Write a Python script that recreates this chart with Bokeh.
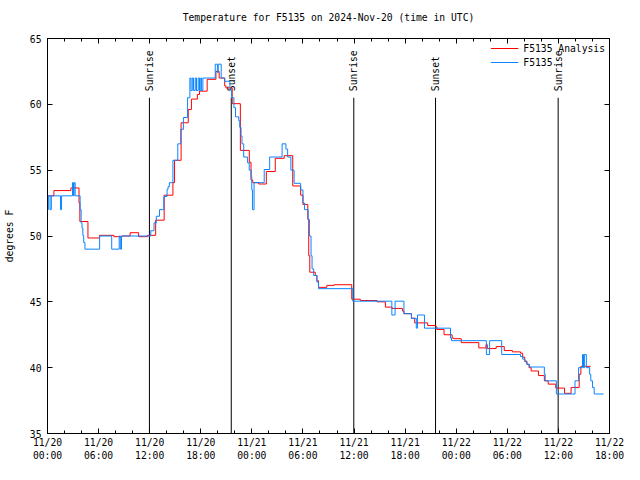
import math
from bokeh.plotting import figure
from bokeh.models import (FixedTicker, LinearAxis, Range1d, Legend, LegendItem,
                          CustomLabelingPolicy)
from bokeh.core.properties import value
from bokeh.embed import file_html
from bokeh.resources import INLINE

# ---- data (hours since 2024-11-20 00:00 UTC) ----
analysis_hours = [0.0, 0.75, 2.75, 3.7, 3.8, 4.75, 6.1, 7.8, 8.7, 9.7, 10.7, 11.75, 12.7, 13.7,
                  14.73, 14.92, 15.69, 16.53, 16.9, 17.6, 17.85, 18.75, 19.78, 20.16, 20.81, 20.95,
                  21.69, 22.65, 23.7, 23.9, 24.1, 24.8, 25.7, 26.75, 27.8, 28.8, 29.73, 30.0,
                  30.57, 30.68, 30.8, 31.45, 31.64, 31.83, 32.8, 33.67, 35.73, 36.73, 38.7, 39.68,
                  40.44, 41.7, 41.86, 42.74, 43.12, 44.65, 45.6, 45.72, 46.57, 47.52, 47.71, 48.59,
                  50.65, 51.5, 51.65, 52.69, 53.64, 54.6, 55.55, 55.8, 56.05, 56.3, 56.55, 56.8,
                  57.66, 58.35, 58.8, 59.69, 60.72, 61.49, 62.44, 62.64, 63.78]
analysis_temps = [53.05, 53.45, 53.65, 52.5, 51.1, 49.85, 50.05, 49.95, 50.0, 50.25, 49.95, 50.05, 51.2, 53.1,
                  54.05, 55.75, 58.6, 59.6, 60.4, 60.75, 61.0, 61.9, 62.5, 62.0, 61.4, 61.25,
                  60.05, 56.5, 55.6, 54.25, 54.05, 53.95, 54.9, 55.9, 56.1, 53.8, 53.1, 52.4,
                  51.25, 48.5, 47.25, 47.0, 46.6, 46.1, 46.25, 46.3, 45.2, 45.1, 45.0, 44.6,
                  44.5, 44.3, 44.1, 43.75, 43.4, 43.2, 43.1, 42.9, 42.5, 42.25, 42.2, 41.9,
                  41.5, 41.75, 41.45, 41.6, 41.3, 41.2, 41.1, 40.8, 40.5, 40.25, 40.0, 39.75,
                  39.4, 39.0, 38.75, 38.45, 38.05, 38.5, 39.5, 40.1, 40.1]

obs_hours = [0.0, 0.1, 0.3, 0.45, 1.53, 1.65, 2.94, 3.05, 3.12, 3.25, 3.83, 3.95, 4.05, 4.15, 4.25,
             4.4, 6.12, 7.54, 8.42, 8.55, 8.69, 12.13, 12.51, 12.78, 13.16, 13.66, 14.04, 14.16,
             14.31, 14.73, 15.3, 15.65, 15.96, 16.45, 16.72, 16.85, 17.0, 17.15, 17.35, 17.5,
             17.7, 17.85, 18.0, 18.1, 18.25, 19.7, 19.95, 20.05, 20.4, 20.81, 21.43, 21.62,
             21.89, 22.08, 22.46, 22.58, 22.73, 22.84, 23.04, 23.5, 23.69, 23.92, 23.99, 24.07,
             24.26, 25.45, 26.09, 27.55, 28.0, 28.2, 28.58, 28.96, 29.73, 30.0, 30.19, 30.61,
             30.76, 30.95, 31.07, 31.26, 31.64, 31.83, 35.85, 40.44, 40.82, 41.86, 42.74, 43.31,
             43.45, 44.27, 47.33, 47.45, 51.54, 51.92, 53.34, 55.55, 55.8, 56.05, 56.3, 56.6,
             58.35, 58.45, 59.76, 61.95, 62.37, 62.83, 62.95, 63.05, 63.28, 63.67, 63.8, 64.0,
             64.2, 64.35, 65.31]
obs_temps = [52.0, 53.05, 52.0, 53.05, 52.0, 53.05, 54.05, 53.05, 54.05, 53.05, 52.0, 51.0, 50.6, 50.05, 49.5,
             49.0, 50.0, 49.0, 50.0, 49.0, 50.0, 50.4, 51.0, 51.5, 52.0, 53.0, 53.55, 53.75,
             54.05, 55.75, 57.0, 58.1, 59.0, 60.5, 62.0, 61.05, 62.0, 61.05, 62.0, 61.05,
             62.0, 61.05, 62.0, 61.05, 62.0, 63.05, 62.4, 63.05, 62.0, 61.75, 61.1, 60.5,
             59.75, 59.05, 58.75, 58.25, 57.6, 57.0, 56.0, 55.55, 55.0, 54.5, 53.5, 52.0,
             54.05, 55.05, 56.0, 57.0, 56.6, 56.0, 55.0, 54.0, 53.5, 52.5, 52.0, 51.25,
             50.0, 48.5, 47.5, 47.0, 46.5, 46.0, 45.05, 44.0, 45.05, 44.1, 43.75, 43.0,
             44.0, 43.0, 42.25, 42.05, 41.0, 42.05, 41.0, 40.85, 40.65, 40.45, 40.25, 40.05,
             39.5, 39.0, 38.0, 39.0, 40.0, 41.0, 40.0, 41.0, 40.0, 39.5, 39.0, 38.5,
             38.0, 38.0, 38.0]

sun_hours = [11.97, 21.58, 35.97, 45.57, 59.97]
sun_labels = ["Sunrise", "Sunset", "Sunrise", "Sunset", "Sunrise"]

x_tick_hours = [0, 6, 12, 18, 24, 30, 36, 42, 48, 54, 60, 66]
x_tick_labels = ["11/20\n00:00", "11/20\n06:00", "11/20\n12:00", "11/20\n18:00",
                 "11/21\n00:00", "11/21\n06:00", "11/21\n12:00", "11/21\n18:00",
                 "11/22\n00:00", "11/22\n06:00", "11/22\n12:00", "11/22\n18:00"]
x_minor_hours = list(range(0, 67, 2))
y_ticks = [35, 40, 45, 50, 55, 60, 65]

FONT = "DejaVu Sans Mono"
FS = "9.7px"
Y_LO, Y_HI = 35, 65

p = figure(width=624, height=464, output_backend="svg", toolbar_location=None,
           x_range=Range1d(0, 66), y_range=Range1d(Y_LO, Y_HI),
           x_axis_type=None, y_axis_type=None,
           min_border_left=46, min_border_right=15, min_border_top=38, min_border_bottom=30,
           title="Temperature for F5135 on 2024-Nov-20 (time in UTC)")
p.outline_line_color = "black"
p.outline_line_width = 1
p.outline_line_alpha = 1
p.background_fill_color = "white"
p.border_fill_color = "white"
p.title.align = "center"
p.title.text_font = FONT
p.title.text_font_size = FS
p.title.text_font_style = "normal"
p.title.text_color = "black"
p.title.standoff = 9

xt = FixedTicker(ticks=x_tick_hours, minor_ticks=x_minor_hours)
yt = FixedTicker(ticks=y_ticks, minor_ticks=[])

hide_all = CustomLabelingPolicy(code="""
    for (const i of indices)
        indices.unset(i)
    return indices
""")

def style(ax, labels=True):
    ax.axis_line_color = None
    ax.major_tick_in = 5
    ax.major_tick_out = 0
    ax.minor_tick_in = 3
    ax.minor_tick_out = 0
    ax.major_tick_line_color = "black"
    ax.minor_tick_line_color = "black"
    ax.major_label_text_font = FONT
    ax.major_label_text_font_size = FS
    ax.major_label_text_color = "black"
    ax.axis_label_text_font = FONT
    ax.axis_label_text_font_size = FS
    ax.axis_label_text_font_style = "normal"
    ax.axis_label_text_color = "black"
    if not labels:
        ax.major_label_policy = hide_all
        ax.major_label_standoff = 0

xb = LinearAxis(ticker=xt)
style(xb)
xb.major_label_overrides = {h: lab for h, lab in zip(x_tick_hours, x_tick_labels)}
xb.major_label_standoff = 3
xb.major_label_text_line_height = 1.25
p.add_layout(xb, "below")

xa = LinearAxis(ticker=xt)
style(xa, labels=False)
p.add_layout(xa, "above")

yl = LinearAxis(ticker=yt, axis_label="degrees F")
style(yl)
yl.major_label_standoff = 6
yl.axis_label_standoff = 12
p.add_layout(yl, "left")

yr = LinearAxis(ticker=yt)
style(yr, labels=False)
p.add_layout(yr, "right")

# sunrise / sunset markers
top = Y_LO + 0.85 * (Y_HI - Y_LO)
p.segment(x0=sun_hours, y0=[Y_LO] * len(sun_hours), x1=sun_hours, y1=[top] * len(sun_hours),
          line_color="black", line_width=1)
p.text(x=sun_hours, y=[top + 0.5] * len(sun_hours), text=sun_labels, angle=math.pi / 2,
       text_align="left", text_baseline="middle", text_font=value(FONT),
       text_font_size=value(FS), text_color="black")

r1 = p.step(analysis_hours, analysis_temps, mode="after", line_color="#ff0000", line_width=1)
r2 = p.step(obs_hours, obs_temps, mode="after", line_color="#0a84ff", line_width=1)

legend = Legend(items=[LegendItem(label="F5135 Analysis", renderers=[r1]),
                       LegendItem(label="F5135", renderers=[r2])],
                location="top_right")
legend.border_line_color = None
legend.background_fill_alpha = 0
legend.label_text_font = FONT
legend.label_text_font_size = FS
legend.label_text_color = "black"
legend.glyph_width = 28
legend.spacing = 2
legend.padding = 2
legend.margin = 4
legend.label_height = 12
legend.glyph_height = 12
p.add_layout(legend)

open("out.html", "w").write(file_html(p, INLINE))
